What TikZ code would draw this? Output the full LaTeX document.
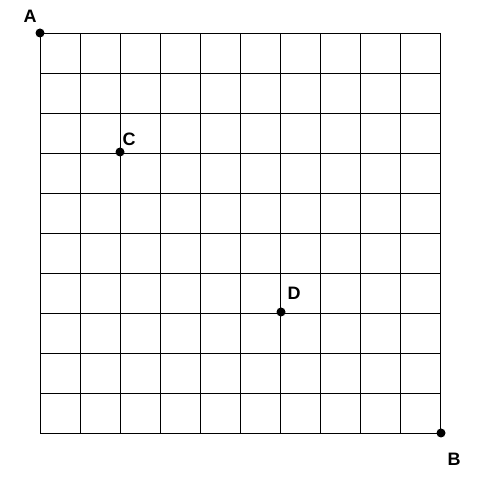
\documentclass[tikz,border=0pt]{standalone}
\usepackage{fontspec}
\setmainfont{Liberation Sans}
\begin{document}
\begin{tikzpicture}[x=1pt,y=-1pt,
    dot/.style={circle, fill=black, inner sep=0pt, minimum size=9pt},
    ptlabel/.style={font=\fontsize{18}{21}\selectfont\bfseries, inner sep=0pt}]
    \useasboundingbox (0,0) rectangle (496,489);

    % grid 10 x 10
    \foreach \i in {0,...,10} {
        \draw[line width=0.9pt] (40+40*\i,33) -- (40+40*\i,433);
        \draw[line width=0.9pt] (40,33+40*\i) -- (440,33+40*\i);
    }

    % points
    \node[dot] (A) at (40,33) {};
    \node[dot] (B) at (441,433) {};
    \node[dot] (C) at (120,152) {};
    \node[dot] (D) at (281,312) {};

    % labels
    \node[ptlabel, shift={(-10,-17)}] (labA) at (A) {A};
    \node[ptlabel, shift={(13,26)}] (labB) at (B) {B};
    \node[ptlabel, shift={(9,-13)}] (labC) at (C) {C};
    \node[ptlabel, shift={(13,-19)}] (labD) at (D) {D};
\end{tikzpicture}
\end{document}
